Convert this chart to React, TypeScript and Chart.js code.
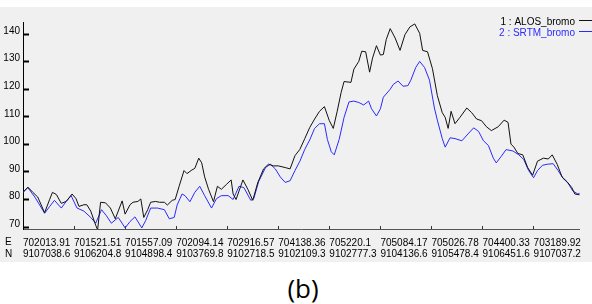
import React, { useEffect, useRef } from "react";
import { Chart, registerables } from "chart.js";

Chart.register(...registerables);

// profile position (samples along the profile) and elevation values
const alosPos = [0, 5, 10, 15, 22, 27, 30, 34, 39, 44, 50, 54, 57, 62, 65, 69, 74, 76, 79, 84, 89, 94, 97, 101, 104, 109, 112, 117, 120, 123, 127, 130, 135, 139, 144, 147, 152, 155, 159, 164, 167, 172, 175, 179, 182, 185, 189, 194, 198, 202, 207, 212, 214, 217, 224, 229, 234, 239, 245, 250, 255, 260, 267, 272, 277, 282, 287, 292, 297, 302, 307, 312, 316, 320, 324, 327, 334, 337, 342, 345, 349, 353, 356, 360, 364, 367, 370, 374, 379, 384, 389, 394, 399, 404, 407, 412, 417, 422, 427, 430, 433, 436, 440, 445, 452, 457, 462, 467, 472, 477, 484, 490, 494, 497, 500, 504, 509, 514, 519, 524, 530, 535, 539, 544, 549, 554, 559, 562, 567];
const alosVal = [82.6, 84.5, 82.6, 80.9, 75.2, 79.9, 82.6, 81.8, 78.6, 79.3, 82.0, 80.3, 77.5, 78.1, 78.1, 75.8, 70.7, 69.0, 79.0, 78.8, 76.9, 73.0, 75.8, 79.5, 74.7, 78.1, 79.0, 79.3, 80.2, 73.5, 76.3, 79.0, 79.3, 79.0, 79.0, 78.0, 79.7, 80.0, 84.8, 90.5, 89.4, 90.7, 91.3, 95.0, 93.3, 88.2, 83.7, 79.2, 84.8, 83.7, 85.4, 87.1, 82.0, 80.0, 87.1, 83.7, 79.7, 86.0, 91.1, 92.8, 92.2, 92.2, 91.6, 91.1, 95.9, 98.2, 102.1, 106.1, 109.2, 112.0, 113.7, 108.6, 105.8, 112.0, 118.8, 122.8, 122.5, 127.3, 130.1, 133.8, 133.6, 126.2, 131.3, 135.8, 132.4, 132.6, 138.1, 142.0, 138.6, 134.1, 139.8, 142.6, 143.7, 140.3, 134.1, 133.6, 127.5, 117.7, 111.5, 109.8, 105.8, 112.0, 107.5, 109.8, 113.2, 111.5, 109.2, 108.6, 106.4, 105.0, 106.4, 108.8, 108.0, 100.1, 99.0, 96.7, 96.2, 91.6, 88.8, 93.9, 95.0, 94.7, 96.2, 92.8, 88.2, 86.5, 84.3, 82.0, 81.7];

const srtmPos = [0, 5, 12, 17, 22, 27, 32, 39, 44, 49, 55, 62, 69, 74, 80, 85, 90, 97, 104, 109, 114, 121, 125, 130, 137, 144, 149, 154, 157, 162, 165, 170, 175, 180, 185, 192, 197, 202, 209, 214, 220, 225, 232, 235, 240, 247, 252, 257, 262, 267, 272, 277, 282, 287, 292, 297, 302, 307, 310, 314, 317, 322, 327, 332, 337, 342, 347, 352, 355, 360, 364, 367, 374, 377, 382, 387, 392, 395, 400, 404, 409, 414, 419, 422, 427, 430, 435, 440, 447, 454, 459, 464, 469, 474, 479, 482, 487, 492, 499, 505, 510, 515, 520, 524, 529, 534, 540, 545, 550, 555, 560, 565, 567];
const srtmVal = [82.6, 84.3, 80.9, 78.0, 75.0, 77.4, 79.7, 76.9, 79.3, 81.4, 76.9, 75.8, 73.5, 71.4, 76.3, 74.1, 71.4, 73.5, 69.7, 72.0, 73.7, 69.7, 72.4, 76.9, 76.9, 76.3, 73.0, 73.5, 78.0, 82.0, 81.4, 79.2, 82.6, 84.8, 81.4, 76.9, 80.3, 81.4, 81.4, 80.0, 84.8, 84.3, 79.7, 80.3, 86.5, 91.6, 92.8, 91.1, 88.2, 86.2, 86.8, 90.5, 93.9, 98.2, 101.6, 105.8, 107.5, 107.5, 101.8, 97.3, 96.2, 101.8, 109.8, 115.4, 115.7, 115.2, 114.3, 115.7, 112.9, 110.3, 112.9, 117.1, 120.0, 121.7, 123.0, 121.1, 121.3, 123.3, 127.9, 130.1, 127.9, 123.3, 113.2, 108.8, 102.1, 99.0, 102.4, 102.1, 101.3, 104.1, 106.0, 104.7, 101.3, 99.6, 95.0, 93.3, 95.6, 98.1, 97.6, 96.2, 94.5, 90.5, 87.9, 90.5, 92.4, 92.8, 93.0, 90.5, 87.7, 86.0, 83.1, 82.0, 82.3];

const eastLabels = ["702013.91", "701521.51", "701557.09", "702094.14", "702916.57", "704138.36", "705220.1", "705084.17", "705026.78", "704400.33", "703189.92"];
const northLabels = ["9107038.6", "9106204.8", "9104898.4", "9103769.8", "9102718.5", "9102109.3", "9102777.3", "9104136.6", "9105478.4", "9106451.6", "9107037.2"];
const tickStep = 52;
const yTicks = [70, 80, 90, 100, 110, 120, 130, 140];
const seriesNames = ["1 : ALOS_bromo", "2 : SRTM_bromo"];
const seriesColors = ["#111111", "#2a2aff"];

const FONT = "'Liberation Sans', Arial, sans-serif";

export default function App() {
  const ref = useRef<HTMLCanvasElement>(null);
  useEffect(() => {
    document.body.style.margin = "0";
    const canvas = ref.current!;
    const overlay = {
      id: "overlay",
      afterDraw(chart: any) {
        const ctx = chart.ctx;
        const ca = chart.chartArea;
        ctx.save();
        ctx.font = `10px ${FONT}`;
        ctx.textBaseline = "middle";
        ctx.textAlign = "left";
        ctx.fillStyle = "#000";
        ctx.fillText("E", 5, ca.bottom + 13.5);
        ctx.fillText("N", 5, ca.bottom + 25);
        // legend
        ctx.textAlign = "right";
        seriesNames.forEach((n, i) => {
          const y = 15 + i * 11;
          ctx.fillStyle = i === 0 ? "#000" : seriesColors[1];
          ctx.fillText(n, 575, y);
          ctx.strokeStyle = seriesColors[i];
          ctx.lineWidth = 1;
          ctx.beginPath();
          ctx.moveTo(579, Math.round(y) - 1.5);
          ctx.lineTo(592, Math.round(y) - 1.5);
          ctx.stroke();
        });
        ctx.restore();
      },
    };
    const chart = new Chart(canvas, {
      type: "line",
      data: {
        datasets: [
          {
            label: seriesNames[0],
            data: alosPos.map((x, i) => ({ x, y: alosVal[i] })),
            borderColor: seriesColors[0],
            borderWidth: 1,
            pointRadius: 0,
            tension: 0,
          },
          {
            label: seriesNames[1],
            data: srtmPos.map((x, i) => ({ x, y: srtmVal[i] })),
            borderColor: seriesColors[1],
            borderWidth: 1,
            pointRadius: 0,
            tension: 0,
          },
        ],
      },
      options: {
        responsive: false,
        animation: false,
        layout: { padding: { top: 1, right: 2, left: 0, bottom: 0 } },
        plugins: { legend: { display: false }, tooltip: { enabled: false } },
        scales: {
          x: {
            type: "linear",
            min: 0,
            max: 567,
            afterBuildTicks: (s: any) => {
              s.ticks = eastLabels.map((_, i) => ({ value: i * tickStep }));
            },
            afterFit: (s: any) => {
              s.height = 33;
            },
            ticks: {
              autoSkip: false,
              maxRotation: 0,
              align: "start",
              padding: 11,
              color: "#000",
              font: { family: FONT, size: 10, lineHeight: 1.15 },
              callback: (v: any) => {
                const i = Math.round(v / tickStep);
                return [eastLabels[i], northLabels[i]];
              },
            },
            grid: { drawOnChartArea: false, tickLength: -3, tickColor: "#333", tickWidth: 1 },
            border: { color: "#555", width: 1 },
          },
          y: {
            min: 69.3,
            max: 144.4,
            afterBuildTicks: (s: any) => {
              s.ticks = yTicks.map((v) => ({ value: v }));
            },
            afterFit: (s: any) => {
              s.width = 23;
            },
            ticks: {
              padding: 9,
              labelOffset: -3,
              color: "#000",
              font: { family: FONT, size: 10 },
            },
            grid: { drawOnChartArea: false, tickLength: -6, tickColor: "#000", tickWidth: 2 },
            border: { color: "#000", width: 1 },
          },
        },
      },
      plugins: [overlay],
    } as any);
    return () => chart.destroy();
  }, []);
  return (
    <div style={{ position: "relative", width: 592, height: 304, background: "#fff" }}>
      <canvas
        ref={ref}
        width={592}
        height={255}
        style={{ position: "absolute", left: 0, top: 7, width: 592, height: 255, background: "#f0f0f0" }}
      />
      <div
        style={{
          position: "absolute",
          left: 0,
          top: 270,
          width: 606,
          height: 36,
          textAlign: "center",
          fontFamily: "'Open Sans', 'Noto Sans', sans-serif",
          fontSize: 26,
          lineHeight: "36px",
          color: "#000",
        }}
      >
        (b)
      </div>
    </div>
  );
}
